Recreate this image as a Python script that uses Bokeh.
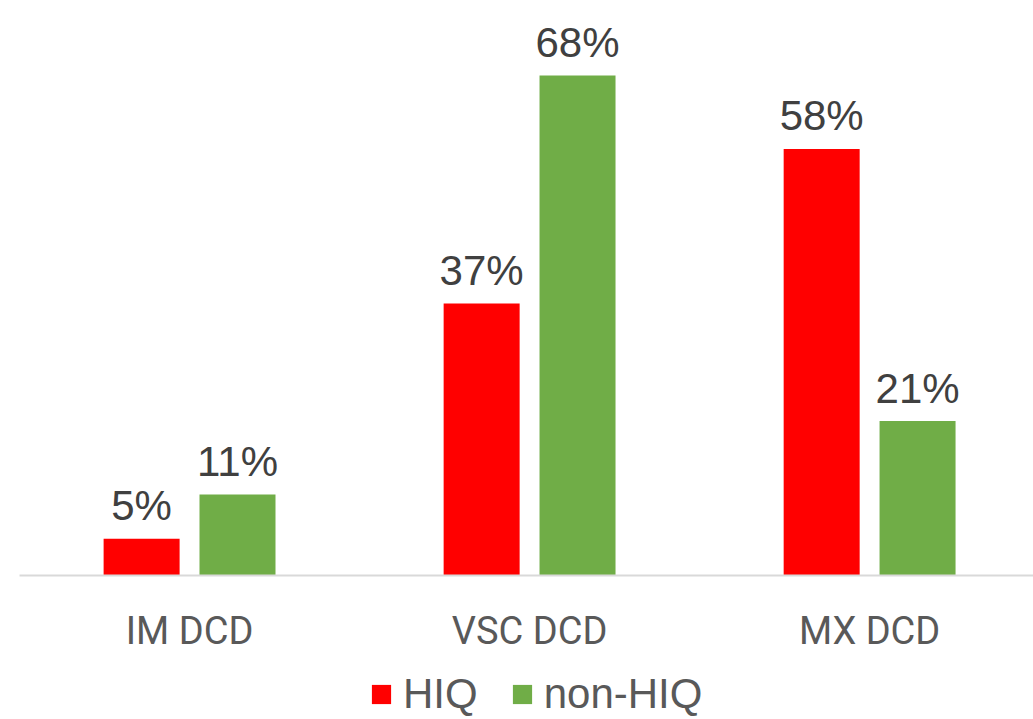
from bokeh.plotting import figure
from bokeh.models import ColumnDataSource, Range1d, Legend, LegendItem
from bokeh.core.properties import value
from bokeh.embed import file_html
from bokeh.resources import INLINE

categories = ["IM DCD", "VSC DCD", "MX DCD"]
series_names = ["HIQ", "non-HIQ"]
hiq = [5, 37, 58]
non_hiq = [11, 68, 21]
colors = ["#FF0000", "#70AD47"]

xs = list(range(len(categories)))
off = 0.141
bw = 0.2235

p = figure(frame_width=1033, frame_height=719, output_backend="svg", toolbar_location=None,
           x_range=Range1d(-0.556, 2.482), y_range=Range1d(-19.58, 78.19),
           min_border_left=0, min_border_right=0, min_border_top=0, min_border_bottom=0)
p.outline_line_color = None
p.grid.visible = False
p.axis.visible = False
p.background_fill_color = "white"
p.border_fill_color = "white"

src_h = ColumnDataSource(dict(x=[x - off for x in xs], top=hiq, lab=[f"{v}%" for v in hiq]))
src_n = ColumnDataSource(dict(x=[x + off for x in xs], top=non_hiq, lab=[f"{v}%" for v in non_hiq]))
src_c = ColumnDataSource(dict(x=xs, y=[0] * len(xs), lab=categories))

r1 = p.vbar(x="x", top="top", width=bw, bottom=0, source=src_h, fill_color=colors[0], line_color=None)
r2 = p.vbar(x="x", top="top", width=bw, bottom=0, source=src_n, fill_color=colors[1], line_color=None)

for src in (src_h, src_n):
    p.text(x="x", y="top", text="lab", source=src, text_align="center", text_baseline="alphabetic",
           y_offset=-33, text_font=value("Liberation Sans"), text_font_size="42px", text_color="#404040")

# baseline (category axis line)
p.segment(x0=[-0.5], y0=[0], x1=[2.482], y1=[0], line_color="#D9D9D9", line_width=2)

# category labels
p.text(x="x", y="y", text="lab", source=src_c, text_align="center", text_baseline="alphabetic",
       y_offset=55, text_font=value("Roboto"), text_font_size="38px", text_color="#595959")

legend = Legend(items=[LegendItem(label=series_names[0], renderers=[r1]),
                       LegendItem(label=series_names[1], renderers=[r2])],
                orientation="horizontal", location=(369, 1),
                label_text_font="Liberation Sans", label_text_font_size="42px",
                label_text_color="#595959", glyph_width=24, glyph_height=24,
                label_standoff=10, spacing=32, border_line_color=None,
                background_fill_alpha=0, padding=0, margin=0)
p.add_layout(legend, "center")

open("out.html", "w").write(file_html(p, INLINE))
